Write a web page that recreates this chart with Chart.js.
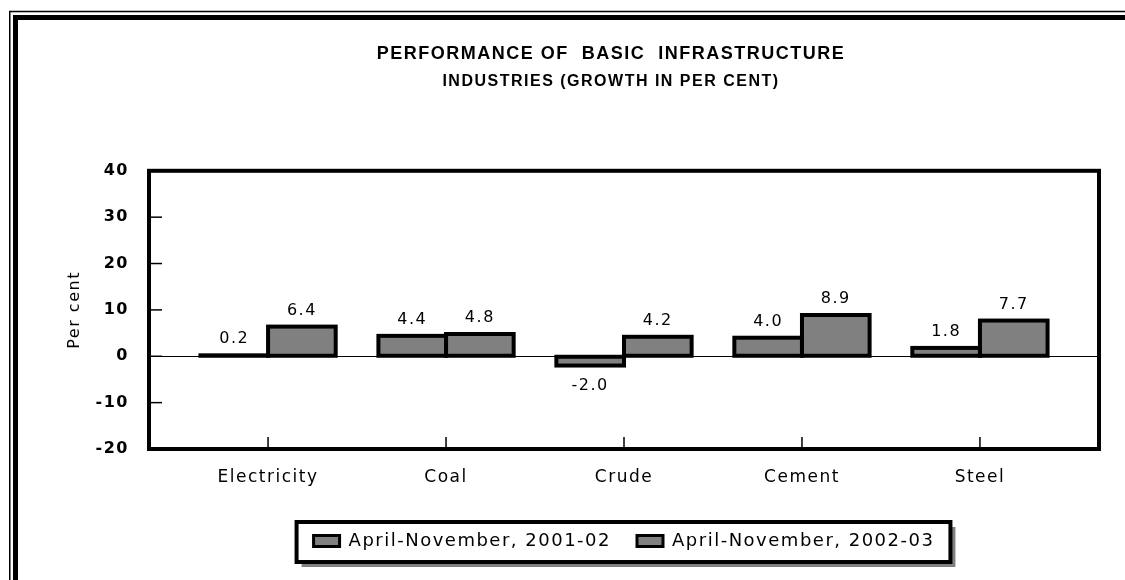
<!DOCTYPE html>
<html lang="en">
<head>
    <meta charset="UTF-8">
    <script src="https://cdn.jsdelivr.net/npm/chart.js"></script>
    <title>Performance of basic infrastructure industries</title>
    <style>
        html, body { margin: 0; padding: 0; background: #fff; overflow: hidden; }
        #wrap { position: absolute; left: 0; top: 0; width: 1222px; height: 580px; }
    </style>
</head>
<body>
    <div id="wrap"><canvas id="grafica"></canvas></div>
    <script>
        // data
        const categories = ['Electricity', 'Coal', 'Crude', 'Cement', 'Steel'];
        const serie2001 = [0.2, 4.4, -2.0, 4.0, 1.8];
        const serie2002 = [6.4, 4.8, 4.2, 8.9, 7.7];
        const serieLabels = ['April-November, 2001-02', 'April-November, 2002-03'];
        const yTicks = [-20, -10, 0, 10, 20, 30, 40];

        const txtFont = "'DejaVu Sans', 'Liberation Sans', sans-serif";
        const titleFont = "'Liberation Sans Narrow', 'Liberation Sans', Arial, sans-serif";
        const gris = '#808080';

        function toPoints(values) {
            return values.map((v, i) => ({ x: i, y: v }));
        }

        // letter spacing like the original
        const espaciado = {
            id: 'espaciado',
            beforeLayout(chart) { chart.ctx.letterSpacing = '1.5px'; },
            beforeDraw(chart) { chart.ctx.letterSpacing = '1.5px'; },
            afterLayout(chart) {
                // the legend box sits a bit right of the title in the original
                chart.legend.left += 13;
                chart.legend.right += 13;
            }
        };

        // outer double frame + legend box with shadow
        const marcos = {
            id: 'marcos',
            beforeDraw(chart) {
                const ctx = chart.ctx;
                ctx.save();
                ctx.strokeStyle = '#000';
                ctx.lineWidth = 1.5;
                ctx.strokeRect(9.75, 11.5, chart.width - 19.5, chart.height + 50);
                ctx.lineWidth = 5;
                ctx.strokeRect(15.5, 17.5, chart.width - 31, chart.height + 50);

                const hb = chart.legend.legendHitBoxes;
                if (hb && hb.length) {
                    const last = hb[hb.length - 1];
                    const left = hb[0].left - 17;
                    const right = last.left + last.width + 16;
                    const cy = hb[0].top + hb[0].height / 2;
                    const top = cy - 19, bottom = cy + 21;
                    ctx.fillStyle = gris;
                    ctx.fillRect(left + 5, top + 5, right - left, bottom - top);
                    ctx.fillStyle = '#fff';
                    ctx.fillRect(left, top, right - left, bottom - top);
                    ctx.lineWidth = 4;
                    ctx.strokeRect(left, top, right - left, bottom - top);
                }
                ctx.restore();
            }
        };

        // bar outlines, value labels, plot frame and inner tick marks
        const barras = {
            id: 'barras',
            afterDatasetsDraw(chart) {
                const ctx = chart.ctx;
                const area = chart.chartArea;
                ctx.save();
                ctx.strokeStyle = '#000';
                ctx.lineWidth = 4;
                chart.data.datasets.forEach((ds, d) => {
                    chart.getDatasetMeta(d).data.forEach(bar => {
                        const p = bar.getProps(['x', 'y', 'base', 'width'], true);
                        const top = Math.min(p.y, p.base);
                        const h = Math.abs(p.base - p.y);
                        ctx.strokeRect(p.x - p.width / 2, top, p.width, h);
                    });
                });
                ctx.fillStyle = '#000';
                ctx.font = '16px ' + txtFont;
                ctx.textAlign = 'center';
                ctx.textBaseline = 'middle';
                chart.data.datasets.forEach((ds, d) => {
                    chart.getDatasetMeta(d).data.forEach((bar, i) => {
                        const v = ds.data[i].y;
                        const yy = v >= 0 ? bar.y - 16 : bar.y + 20;
                        ctx.fillText(v.toFixed(1), bar.x, yy);
                    });
                });

                ctx.lineWidth = 1.5;
                const ys = chart.scales.y, xs = chart.scales.x;
                ys.ticks.forEach(t => {
                    const py = ys.getPixelForValue(t.value);
                    ctx.beginPath();
                    ctx.moveTo(area.left, py);
                    ctx.lineTo(area.left + 13, py);
                    ctx.stroke();
                });
                xs.ticks.forEach(t => {
                    const px = xs.getPixelForValue(t.value);
                    ctx.beginPath();
                    ctx.moveTo(px, area.bottom);
                    ctx.lineTo(px, area.bottom - 12);
                    ctx.stroke();
                });

                ctx.lineWidth = 4;
                ctx.strokeRect(area.left, area.top, area.right - area.left, area.bottom - area.top);
                ctx.restore();
            }
        };

        const ctx = document.getElementById('grafica').getContext('2d');
        const data = {
            datasets: [{
                label: serieLabels[0],
                data: toPoints(serie2001),
                backgroundColor: gris,
                borderWidth: 0
            }, {
                label: serieLabels[1],
                data: toPoints(serie2002),
                backgroundColor: gris,
                borderWidth: 0
            }]
        };

        const opciones = {
            responsive: true,
            maintainAspectRatio: false,
            animation: false,
            categoryPercentage: 0.76,
            barPercentage: 1,
            layout: { padding: { left: 0, right: 0, top: 0, bottom: 20 } },
            scales: {
                x: {
                    type: 'linear',
                    min: -0.669,
                    max: categories.length - 1 + 0.669,
                    offset: false,
                    grid: { display: false, offset: false, drawTicks: false },
                    border: { display: false },
                    ticks: {
                        stepSize: 1,
                        includeBounds: false,
                        padding: 18,
                        color: '#000',
                        font: { family: txtFont, size: 17 },
                        callback: v => categories[v] ?? ''
                    },
                    afterFit(scale) { scale.height = 57; }
                },
                y: {
                    min: yTicks[0],
                    max: yTicks[yTicks.length - 1],
                    afterBuildTicks(scale) { scale.ticks = yTicks.map(v => ({ value: v })); },
                    grid: {
                        drawTicks: false,
                        color: c => (c.tick && c.tick.value === 0) ? '#000' : 'rgba(0,0,0,0)',
                        lineWidth: 1
                    },
                    border: { display: false },
                    ticks: {
                        padding: 20,
                        color: '#000',
                        font: { family: txtFont, size: 16, weight: 'bold' }
                    },
                    title: {
                        display: true,
                        text: 'Per cent',
                        color: '#000',
                        font: { family: txtFont, size: 16 },
                        padding: { top: 65, bottom: 0 }
                    },
                    afterFit(scale) { scale.width = 149; }
                },
                // empty right-hand margin of the original figure
                margen: {
                    position: 'right',
                    grid: { display: false },
                    border: { display: false },
                    ticks: { display: false },
                    afterFit(scale) { scale.width = 123; }
                }
            },
            plugins: {
                title: {
                    display: true,
                    text: 'PERFORMANCE OF  BASIC  INFRASTRUCTURE',
                    color: '#000',
                    font: { family: titleFont, size: 18, weight: 'bold' },
                    padding: { top: 43, bottom: 0 }
                },
                subtitle: {
                    display: true,
                    text: 'INDUSTRIES (GROWTH IN PER CENT)',
                    color: '#000',
                    font: { family: titleFont, size: 16, weight: 'bold' },
                    padding: { top: 7, bottom: 80 }
                },
                legend: {
                    position: 'bottom',
                    onClick: null,
                    labels: {
                        color: '#000',
                        boxWidth: 26,
                        boxHeight: 11,
                        padding: 26,
                        font: { family: txtFont, size: 18 },
                        generateLabels(chart) {
                            return Chart.defaults.plugins.legend.labels.generateLabels(chart).map(l => {
                                l.strokeStyle = '#000';
                                l.lineWidth = 3;
                                return l;
                            });
                        }
                    }
                },
                tooltip: { enabled: false }
            }
        };

        const myChart = new Chart(ctx, {
            type: 'bar',
            data: data,
            options: opciones,
            plugins: [espaciado, marcos, barras]
        });
    </script>
</body>
</html>
